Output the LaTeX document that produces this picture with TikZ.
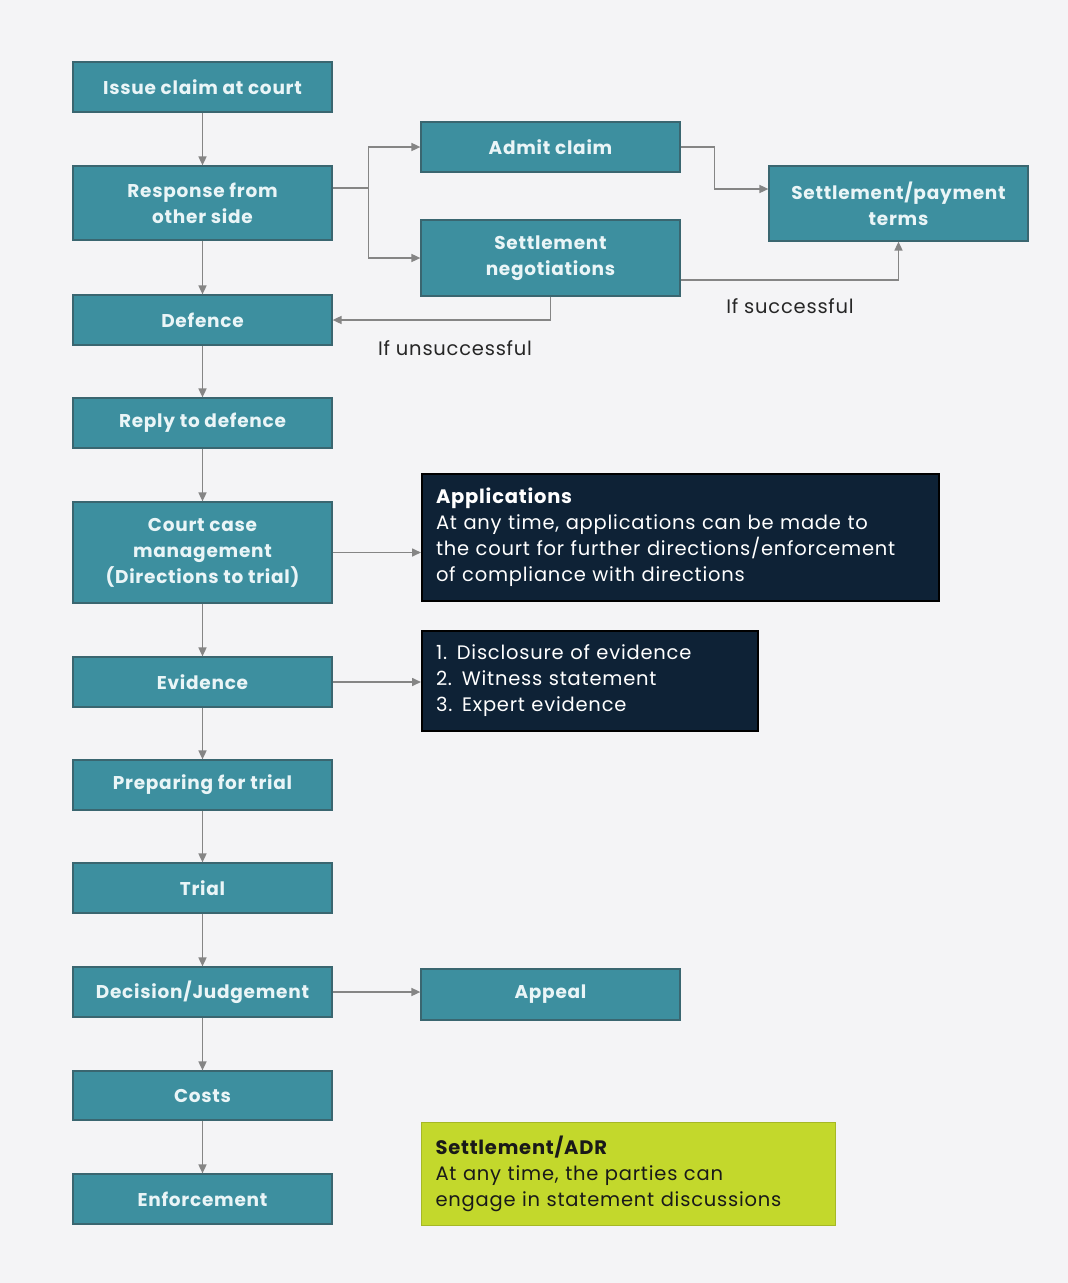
\documentclass[tikz,border=0pt]{standalone}
\usepackage{fontspec}
\setmainfont{Poppins}[LetterSpace=4]
\usetikzlibrary{arrows.meta,calc}
\definecolor{bgc}{HTML}{F4F4F6}
\definecolor{teal}{HTML}{3D8F9F}
\definecolor{tealdark}{HTML}{3A6670}
\definecolor{navy}{HTML}{0E2236}
\definecolor{lime}{HTML}{C3D82C}
\definecolor{arrc}{HTML}{858585}
\definecolor{boxtxt}{HTML}{EAF5F7}
\tikzset{
  flowbox/.style={draw=tealdark, line width=1.2pt, fill=teal, text=boxtxt, minimum width=259pt, align=center, inner sep=2pt, font=\fontsize{18.5}{26}\selectfont\bfseries},
  notebox/.style={draw=black, line width=2pt, fill=navy, text=white, align=left, inner xsep=14pt, inner ysep=4pt, font=\fontsize{19.5}{26}\selectfont, anchor=north west},
  adrbox/.style={draw=lime!85!black, line width=1pt, fill=lime, text=black!90, align=left, inner xsep=14pt, inner ysep=4pt, font=\fontsize{19.5}{26}\selectfont, anchor=north west},
  arr/.style={draw=arrc, line width=1.6pt, -{Triangle[length=9pt,width=8pt]}},
  lbl/.style={text=black!85, font=\fontsize{19.5}{20}\selectfont}
}
\begin{document}
\begin{tikzpicture}[x=1pt,y=-1pt]
\fill[bgc] (0,0) rectangle (1068,1283);
\useasboundingbox (0,0) rectangle (1068,1283);
% left column
\node[flowbox, minimum height=50pt] (issue) at (202.5,87) {Issue claim at court};
\node[flowbox, minimum height=74pt] (response) at (202.5,203) {Response from\\other side};
\node[flowbox, minimum height=50pt] (defence) at (202.5,320) {Defence};
\node[flowbox, minimum height=50pt] (reply) at (202.5,423) {Reply to defence};
\node[flowbox, minimum height=101pt] (ccm) at (202.5,552.5) {Court case\\management\\(Directions to trial)};
\node[flowbox, minimum height=50pt] (evidence) at (202.5,682) {Evidence};
\node[flowbox, minimum height=50pt] (prep) at (202.5,785) {Preparing for trial};
\node[flowbox, minimum height=50pt] (trial) at (202.5,888) {Trial};
\node[flowbox, minimum height=50pt] (decision) at (202.5,992) {Decision/Judgement};
\node[flowbox, minimum height=49pt] (costs) at (202.5,1095.5) {Costs};
\node[flowbox, minimum height=50pt] (enforce) at (202.5,1199) {Enforcement};
% right column
\node[flowbox, minimum height=50pt] (admit) at (550.5,147) {Admit claim};
\node[flowbox, minimum height=76pt] (negot) at (550.5,258) {Settlement\\negotiations};
\node[flowbox, minimum height=75pt] (terms) at (898.5,203.5) {Settlement/payment\\terms};
\node[flowbox, minimum height=51pt] (appeal) at (550.5,994.5) {Appeal};
\node[notebox, text width=489pt, minimum height=127pt] (apps) at (421,473) {\textbf{Applications}\\At any time, applications can be made to\\the court for further directions/enforcement\\of compliance with directions};
\node[notebox, text width=308pt, minimum height=100pt] (evlist) at (421,630) {1. Disclosure of evidence\\2. Witness statement\\3. Expert evidence};
\node[adrbox, text width=386pt, minimum height=103pt] (adr) at (421,1122) {\textbf{Settlement/ADR}\\At any time, the parties can\\engage in statement discussions};
% vertical flow
\draw[arr] (issue) -- (response);
\draw[arr] (response) -- (defence);
\draw[arr] (defence) -- (reply);
\draw[arr] (reply) -- (ccm);
\draw[arr] (ccm) -- (evidence);
\draw[arr] (evidence) -- (prep);
\draw[arr] (prep) -- (trial);
\draw[arr] (trial) -- (decision);
\draw[arr] (decision) -- (costs);
\draw[arr] (costs) -- (enforce);
% branches
\coordinate (rsplit) at ($([yshift=15pt]response.east)+(36,0)$);
\draw[arr] ([yshift=15pt]response.east) -- (rsplit) |- (admit.west);
\draw[arr] (rsplit) |- (negot.west);
\draw[arr] (admit.east) -- ++(34,0) |- ([yshift=14.5pt]terms.west);
\draw[arr] ([yshift=-22pt]negot.east) -| (terms.south);
\draw[arr] (negot.south) |- (defence.east);
\node[lbl] (succ) at (790,306) {If successful};
\node[lbl] (unsucc) at (455,348) {If unsuccessful};
\draw[arr] (ccm.east) -- (ccm.east -| apps.west);
\draw[arr] (evidence.east) -- (evidence.east -| evlist.west);
\draw[arr] (decision.east) -- (decision.east -| appeal.west);
\end{tikzpicture}
\end{document}
